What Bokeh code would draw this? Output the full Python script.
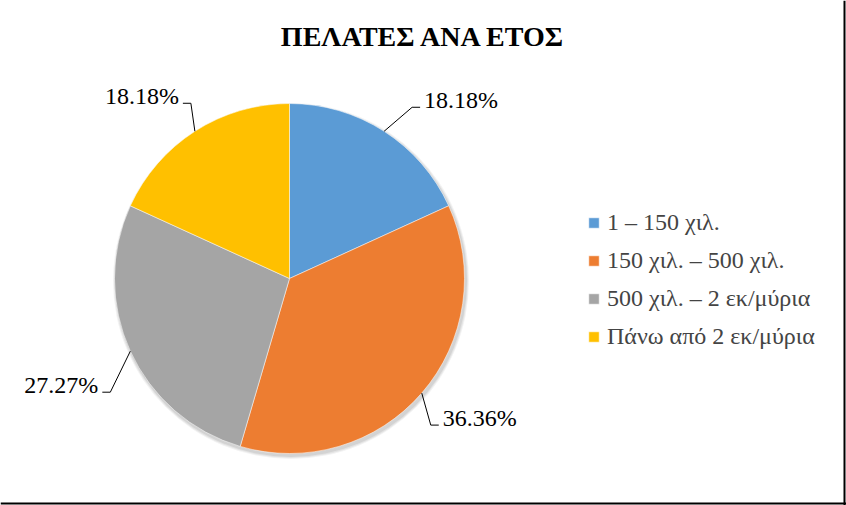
import numpy as np
from bokeh.plotting import figure
from bokeh.models import ColumnDataSource, Range1d
from bokeh.embed import file_html
from bokeh.resources import INLINE
from bokeh.core.properties import value

# ---- data ----
title_text = "ΠΕΛΑΤΕΣ ΑΝΑ ΕΤΟΣ"
categories = ["1 – 150 χιλ.", "150 χιλ. – 500 χιλ.", "500 χιλ. – 2 εκ/μύρια", "Πάνω από 2 εκ/μύρια"]
shares = [18.18, 36.36, 27.27, 18.18]
share_labels = ["18.18%", "36.36%", "27.27%", "18.18%"]

# ---- style / layout ----
colors = ["#5b9bd5", "#ed7d31", "#a5a5a5", "#ffc000"]
W, H = 846, 505
CX, CY, R = 289, 227, 175
FONT = "Liberation Serif"
# offset of the leader elbow from the slice edge point (px, +x right, +y up)
leader_offsets = [(28, 24), (9, -32), (-20, -41), (-4, 28)]

p = figure(width=W, height=H, output_backend="svg", toolbar_location=None,
           x_range=Range1d(0, W), y_range=Range1d(0, H), min_border=0)
p.axis.visible = False
p.grid.visible = False
p.outline_line_color = None
p.background_fill_color = "white"
p.border_fill_color = "white"

fr = np.array(shares, dtype=float) / np.sum(shares)
cum = np.concatenate([[0.0], np.cumsum(fr)])
start = np.pi / 2 - 2 * np.pi * cum[:-1]
end = np.pi / 2 - 2 * np.pi * cum[1:]
mid = (start + end) / 2

src = ColumnDataSource(dict(cat=categories, start=start, end=end, color=colors,
                            x=[CX] * len(categories), y=[CY] * len(categories)))

# soft shadow under the pie
for k, a in [(3, 0.05), (2, 0.06), (1, 0.07)]:
    p.circle(x=CX + 1.5, y=CY - 2.5, radius=R + k, fill_color="black", fill_alpha=a, line_color=None)

p.wedge(x="x", y="y", radius=R, start_angle="start", end_angle="end", direction="clock",
        fill_color="color", line_color="white", line_alpha=0.5, line_width=1,
        legend_field="cat", source=src)

# leader lines + percentage labels
ex = CX + R * np.cos(mid)
ey = CY + R * np.sin(mid)
xs, ys, tx, ty, align = [], [], [], [], []
for i in range(len(categories)):
    bx = ex[i] + leader_offsets[i][0]
    by = ey[i] + leader_offsets[i][1]
    side = 1 if np.cos(mid[i]) > 0 else -1
    hx = bx + side * 8
    xs.append([ex[i], bx, hx])
    ys.append([ey[i], by, by])
    tx.append(hx + side * 4)
    ty.append(by + 7)
    align.append("left" if side > 0 else "right")
p.multi_line(xs=xs, ys=ys, line_color="black", line_width=1)
lsrc = ColumnDataSource(dict(x=tx, y=ty, t=share_labels, a=align))
p.text(x="x", y="y", text="t", text_align="a", text_baseline="middle",
       text_font=value(FONT), text_font_size="24px", text_color="black", source=lsrc)

# title
p.text(x=[423], y=[469], text=[title_text], text_align="center", text_baseline="middle",
       text_font=value(FONT), text_font_size="28px", text_font_style="bold", text_color="black")

# border (right and bottom, as visible in the picture)
p.segment(x0=[W - 2, 0], y0=[0, 2], x1=[W - 2, W], y1=[H, 2], line_color="black", line_width=2)

lg = p.legend[0]
lg.location = (587, 155)
lg.label_text_font = FONT
lg.label_text_font_size = "24px"
lg.glyph_width = 13
lg.glyph_height = 13
lg.label_standoff = 7
lg.spacing = 11
lg.padding = 0
lg.margin = 0
lg.border_line_alpha = 0
lg.background_fill_alpha = 0

open("out.html", "w").write(file_html(p, INLINE))
